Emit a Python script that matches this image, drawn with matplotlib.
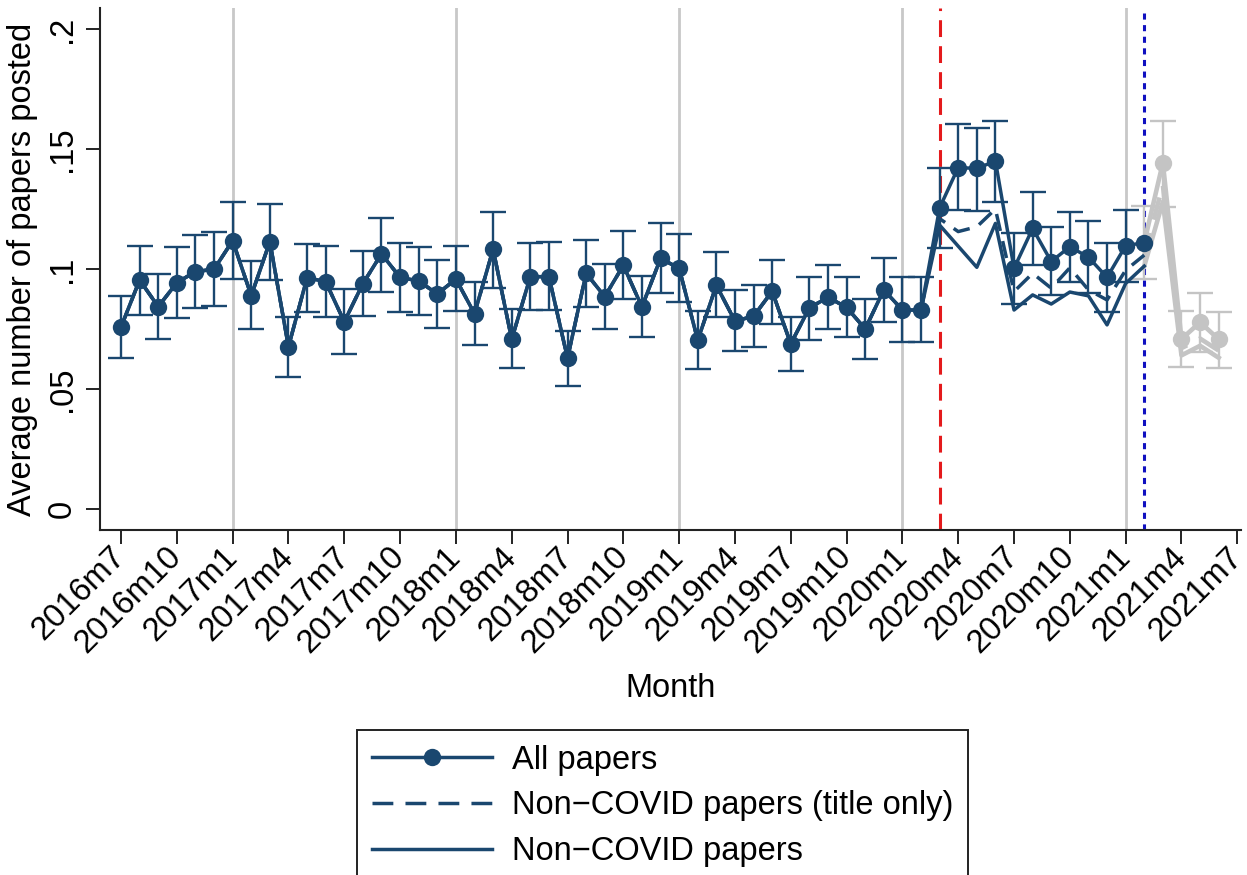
import matplotlib
matplotlib.use("Agg")
import matplotlib.pyplot as plt
from matplotlib.lines import Line2D
import numpy as np

plt.rcParams['font.family'] = ['Liberation Sans', 'DejaVu Sans']

# ---- data (month index 0 = 2016m7) ----
all_papers = [0.0758, 0.0954, 0.0843, 0.0943, 0.0989, 0.0999, 0.1118, 0.0889, 0.1114, 0.0676,
              0.0964, 0.0947, 0.0780, 0.0939, 0.1063, 0.0965, 0.0950, 0.0896, 0.0958, 0.0814,
              0.1082, 0.0707, 0.0968, 0.0968, 0.0628, 0.0982, 0.0885, 0.1015, 0.0842, 0.1044,
              0.1003, 0.0703, 0.0932, 0.0783, 0.0803, 0.0907, 0.0688, 0.0838, 0.0882, 0.0840,
              0.0750, 0.0913, 0.0829, 0.0829, 0.1255, 0.1423, 0.1419, 0.1450, 0.1003, 0.1169,
              0.1031, 0.1093, 0.1049, 0.0965, 0.1097, 0.1110, 0.1443, 0.0708, 0.0778, 0.0707]
ci_upper = [0.0889, 0.1097, 0.0978, 0.1090, 0.1140, 0.1154, 0.1278, 0.1032, 0.1272, 0.0801,
            0.1104, 0.1094, 0.0917, 0.1075, 0.1214, 0.1110, 0.1092, 0.1038, 0.1096, 0.0947,
            0.1236, 0.0835, 0.1110, 0.1113, 0.0743, 0.1121, 0.1021, 0.1160, 0.0971, 0.1190,
            0.1144, 0.0826, 0.1070, 0.0911, 0.0932, 0.1038, 0.0801, 0.0965, 0.1015, 0.0965,
            0.0875, 0.1046, 0.0967, 0.0967, 0.1422, 0.1604, 0.1587, 0.1618, 0.1151, 0.1320,
            0.1174, 0.1236, 0.1201, 0.1110, 0.1246, 0.1262, 0.1618, 0.0826, 0.0899, 0.0821]
ci_lower = [0.0630, 0.0807, 0.0707, 0.0796, 0.0839, 0.0846, 0.0960, 0.0749, 0.0955, 0.0550,
            0.0820, 0.0800, 0.0646, 0.0806, 0.0905, 0.0820, 0.0808, 0.0753, 0.0825, 0.0683,
            0.0922, 0.0586, 0.0830, 0.0829, 0.0513, 0.0843, 0.0751, 0.0875, 0.0715, 0.0901,
            0.0861, 0.0585, 0.0800, 0.0657, 0.0674, 0.0771, 0.0575, 0.0706, 0.0751, 0.0717,
            0.0626, 0.0778, 0.0696, 0.0696, 0.1089, 0.1246, 0.1243, 0.1280, 0.0855, 0.1017,
            0.0892, 0.0947, 0.0901, 0.0821, 0.0947, 0.0958, 0.1260, 0.0593, 0.0653, 0.0586]
# Non-COVID series differ from "all papers" only from 2020m3 (index 44) on
noncovid_title_from_2020m3 = [0.1210, 0.1156, 0.1176, 0.1250, 0.0906, 0.0982, 0.0920, 0.1005,
                              0.0913, 0.0871, 0.0995, 0.1058, 0.1350, 0.0670, 0.0710, 0.0660]
noncovid_from_2020m3 = [0.1183, 0.1095, 0.1007, 0.1190, 0.0829, 0.0892, 0.0854, 0.0904,
                        0.0888, 0.0767, 0.0940, 0.1012, 0.1280, 0.0640, 0.0680, 0.0630]
tick_labels = ['2016m7', '2016m10', '2017m1', '2017m4', '2017m7', '2017m10', '2018m1',
               '2018m4', '2018m7', '2018m10', '2019m1', '2019m4', '2019m7', '2019m10',
               '2020m1', '2020m4', '2020m7', '2020m10', '2021m1', '2021m4', '2021m7']
year_starts = [6, 18, 30, 42, 54]     # 2017m1 ... 2021m1
covid_start = 44                      # 2020m3
cutoff = 55                           # 2021m2

all_papers = np.array(all_papers)
ci_upper = np.array(ci_upper)
ci_lower = np.array(ci_lower)
start = len(all_papers) - len(noncovid_from_2020m3)
noncovid_title = np.concatenate([all_papers[:start], noncovid_title_from_2020m3])
noncovid = np.concatenate([all_papers[:start], noncovid_from_2020m3])
x = np.arange(len(all_papers))

navy = '#1a476f'
gray = '#c4c4c4'
FS = 23.5
LW = 2.5
MS = 12.5

fig = plt.figure(figsize=(12.47, 8.75), dpi=100)
ax = fig.add_axes([100/1247, 1-530/875, 1141/1247, 522/875])

for ys in year_starts:
    ax.axvline(ys, color='#c8c8c8', lw=2.0, zorder=1)
ax.axvline(covid_start, color='#e41a1c', lw=2.2, ls=(0, (5.5, 3)), zorder=1.5)
ax.axvline(cutoff, color='#1010c0', lw=2.2, ls=(0, (2, 1.8)), zorder=1.5)

# gray (post-cutoff) part
g = slice(cutoff, len(x))
ax.plot(x[g], noncovid[g], color=gray, lw=LW + 0.8, zorder=2)
ax.plot(x[g], noncovid_title[g], color=gray, lw=LW + 0.8, ls=(0, (5, 3)), zorder=2)
ax.errorbar(x[g], all_papers[g],
            yerr=[all_papers[g] - ci_lower[g], ci_upper[g] - all_papers[g]],
            fmt='none', ecolor=gray, elinewidth=1.7, capsize=9.5, capthick=1.7, zorder=2)
ax.plot(x[g], all_papers[g], color=gray, lw=LW + 0.8, marker='o', ms=MS,
        markeredgewidth=0, zorder=2.2)

# navy part
n = slice(0, cutoff + 1)
ax.plot(x[n], noncovid[n], color=navy, lw=LW, zorder=3)
ax.plot(x[n], noncovid_title[n], color=navy, lw=LW, ls=(0, (5, 3)), zorder=3)
e = slice(0, cutoff)
ax.errorbar(x[e], all_papers[e],
            yerr=[all_papers[e] - ci_lower[e], ci_upper[e] - all_papers[e]],
            fmt='none', ecolor=navy, elinewidth=1.7, capsize=9.5, capthick=1.7, zorder=3)
ax.plot(x[n], all_papers[n], color=navy, lw=LW, marker='o', ms=MS,
        markeredgewidth=0, zorder=4)

ax.set_xlim(-1.13, 60.2)
ax.set_ylim(-0.0088, 0.2088)
ax.set_xticks(np.arange(0, 61, 3))
ax.set_xticklabels(tick_labels, rotation=45, ha='right', va='center',
                   rotation_mode='anchor', fontsize=FS)
ax.set_yticks([0, 0.05, 0.1, 0.15, 0.2])
ax.set_yticklabels(['0', '.05', '.1', '.15', '.2'], rotation=90, va='center',
                   fontsize=FS)
ax.tick_params(axis='both', length=10, width=1.4, color='#222222', pad=6)
for s in ['top', 'right']:
    ax.spines[s].set_visible(False)
for s in ['left', 'bottom']:
    ax.spines[s].set_linewidth(1.5)
    ax.spines[s].set_color('#222222')

ax.set_xlabel('Month', fontsize=FS, labelpad=10)
ax.set_ylabel('Average number of papers posted', fontsize=FS, labelpad=6)

handles = [Line2D([], [], color=navy, lw=LW, marker='o', ms=MS, markeredgewidth=0),
           Line2D([], [], color=navy, lw=LW, ls=(0, (6, 3.5))),
           Line2D([], [], color=navy, lw=LW)]
labels = ['All papers', 'Non\u2212COVID papers (title only)', 'Non\u2212COVID papers']
leg = fig.legend(handles, labels, loc='upper left',
                 bbox_to_anchor=(357/1247, 1-730/875), borderaxespad=0, fontsize=FS,
                 handlelength=3.7, handletextpad=0.6, labelspacing=0.45,
                 borderpad=0.45, fancybox=False, framealpha=1, edgecolor='#222222',
                 numpoints=1)
leg.get_frame().set_linewidth(1.4)

fig.savefig('out.png', dpi=100)
